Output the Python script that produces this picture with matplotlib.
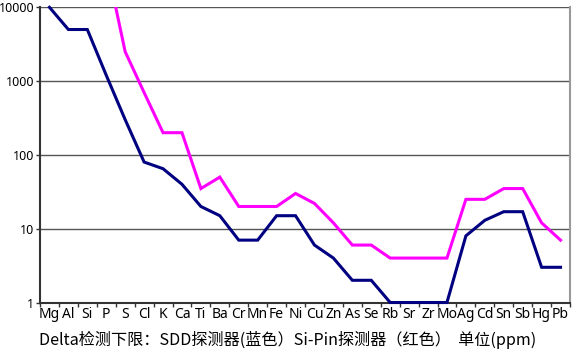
import matplotlib
matplotlib.use("Agg")
import matplotlib.pyplot as plt
import numpy as np
from matplotlib.ticker import FixedLocator, NullFormatter

# detection limits (ppm)
elements = ['Mg', 'Al', 'Si', 'P', 'S', 'Cl', 'K', 'Ca', 'Ti', 'Ba', 'Cr', 'Mn', 'Fe', 'Ni',
            'Cu', 'Zn', 'As', 'Se', 'Rb', 'Sr', 'Zr', 'Mo', 'Ag', 'Cd', 'Sn', 'Sb', 'Hg', 'Pb']
sdd = [10000, 5000, 5000, 1200, 300, 80, 65, 40, 20, 15, 7, 7, 15, 15,
       6, 4, 2, 2, 1, 1, 1, 1, 8, 13, 17, 17, 3, 3]
sipin = [100000, 100000, 80000, 40000, 2500, 700, 200, 200, 35, 50, 20, 20, 20, 30,
         22, 12, 6, 6, 4, 4, 4, 4, 25, 25, 35, 35, 12, 7]
y_ticks = [1, 10, 100, 1000, 10000]
caption = "Delta检测下限：SDD探测器(蓝色）Si-Pin探测器（红色）  单位(ppm)"

plt.rcParams['font.family'] = ['Noto Sans', 'DejaVu Sans']

fig = plt.figure(figsize=(5.76, 3.6), dpi=100)
ax = fig.add_axes([40 / 576, 1 - 302.5 / 360, 530 / 576, 295.2 / 360])

x = np.arange(len(elements))
ax.plot(x, sipin, color='#ff00ff', linewidth=2.2, solid_joinstyle='miter', zorder=3)
ax.plot(x, sdd, color='#000080', linewidth=2.2, solid_joinstyle='miter', zorder=4, clip_on=False)

ax.set_yscale('log')
ax.set_ylim(1, 10000)
ax.set_xlim(-0.5, len(elements) - 0.5)

ax.set_yticks(y_ticks)
ax.set_yticklabels([str(v) for v in y_ticks])
ax.yaxis.set_minor_locator(FixedLocator([]))
ax.yaxis.set_minor_formatter(NullFormatter())
for v in y_ticks[1:]:
    ax.axhline(v, color='#555555', linewidth=1.0, zorder=1)

ax.set_xticks(x)
ax.set_xticklabels(elements)
ax.set_xticks(np.arange(len(elements) + 1) - 0.5, minor=True)
ax.tick_params(axis='x', which='major', length=0, pad=3, labelsize=10)
ax.tick_params(axis='x', which='minor', length=3, width=1, color='#333333')
ax.tick_params(axis='y', which='major', length=3, width=1, color='#333333', pad=1, labelsize=9)

for side in ['left', 'bottom']:
    ax.spines[side].set_color('#333333')
    ax.spines[side].set_linewidth(1.5)
ax.spines['top'].set_visible(False)
ax.spines['right'].set_color('#999999')
ax.spines['right'].set_linewidth(1.5)

fig.text(0.5, 1 - 340 / 360, caption, ha='center', va='center', fontsize=11.6,
         family=['Noto Sans CJK SC', 'DejaVu Sans'])

fig.savefig('out.png', dpi=100)
